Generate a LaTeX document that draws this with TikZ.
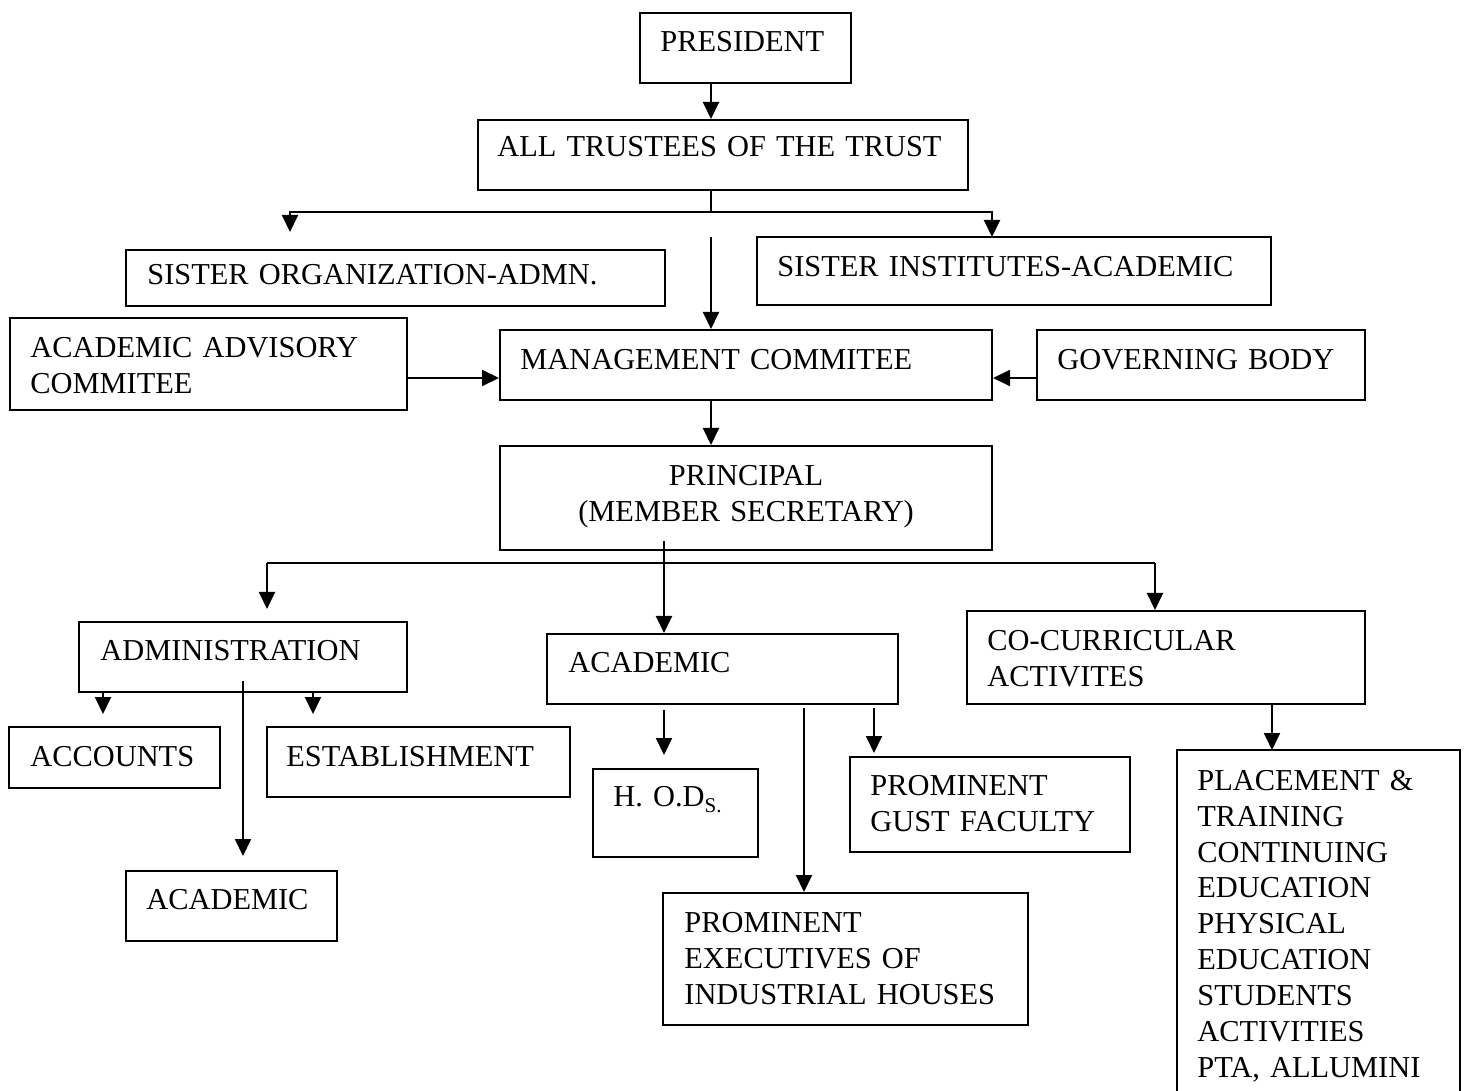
\documentclass[tikz,border=0pt]{standalone}
\usepackage{fontspec}
\setmainfont{Liberation Serif}
\usetikzlibrary{arrows.meta,fit}

\begin{document}
\begin{tikzpicture}[x=0.5pt,y=-0.5pt,
  box/.style={draw,line width=1pt,inner sep=0pt},
  txt/.style={anchor=base west,inner sep=0pt,align=left,text width=9cm,font=\fontsize{15.2}{18}\selectfont},
  arr/.style={line width=1pt,-{Triangle[length=8.5pt,width=8pt]}},
  ln/.style={line width=1pt}]
  \useasboundingbox (0,0) rectangle (1464,1091);
  \node[box,fit={(640,13)(851,83)}] (pres) {};
  \node[txt] (presT) at (660,52) {PRESIDENT};
  \node[box,fit={(478,120)(968,190)}] (trust) {};
  \node[txt] (trustT) at (497,157) {ALL TRUSTEES OF THE TRUST};
  \node[box,fit={(126,250)(665,306)}] (sorg) {};
  \node[txt] (sorgT) at (147,285) {SISTER ORGANIZATION-ADMN.};
  \node[box,fit={(757,237)(1271,305)}] (sinst) {};
  \node[txt] (sinstT) at (777,277) {SISTER INSTITUTES-ACADEMIC};
  \node[box,fit={(10,318)(407,410)}] (aac) {};
  \node[txt] (aacT) at (30,358) {ACADEMIC ADVISORY\\COMMITEE};
  \node[box,fit={(500,330)(992,400)}] (mgmt) {};
  \node[txt] (mgmtT) at (520,370) {MANAGEMENT COMMITEE};
  \node[box,fit={(1037,330)(1365,400)}] (gov) {};
  \node[txt] (govT) at (1057,370) {GOVERNING BODY};
  \node[box,fit={(500,446)(992,550)}] (princ) {};
  \node[txt,anchor=base,align=center] (princT) at (746,486) {PRINCIPAL\\(MEMBER SECRETARY)};
  \node[box,fit={(79,622)(407,692)}] (admin) {};
  \node[txt] (adminT) at (100,661) {ADMINISTRATION};
  \node[box,fit={(547,634)(898,704)}] (acad) {};
  \node[txt] (acadT) at (568,673) {ACADEMIC};
  \node[box,fit={(967,611)(1365,704)}] (cocur) {};
  \node[txt] (cocurT) at (987,650) {CO-CURRICULAR\\ACTIVITES};
  \node[box,fit={(9,727)(220,788)}] (acct) {};
  \node[txt] (acctT) at (30,766) {ACCOUNTS};
  \node[box,fit={(267,727)(570,797)}] (estab) {};
  \node[txt] (estabT) at (286,766) {ESTABLISHMENT};
  \node[box,fit={(126,871)(337,941)}] (acad2) {};
  \node[txt] (acad2T) at (146,909) {ACADEMIC};
  \node[box,fit={(593,769)(758,857)}] (hod) {};
  \node[txt] (hodT) at (613,806) {H. O.D\raisebox{-3pt}{\fontsize{10.5}{12}\selectfont S.}};
  \node[box,fit={(850,757)(1130,852)}] (gust) {};
  \node[txt] (gustT) at (870,795) {PROMINENT\\GUST FACULTY};
  \node[box,fit={(663,893)(1028,1025)}] (exec) {};
  \node[txt] (execT) at (684,932) {PROMINENT\\EXECUTIVES OF\\INDUSTRIAL HOUSES};
  \node[box,fit={(1177,750)(1460,1110)}] (place) {};
  \node[txt] (placeT) at (1197,790) {PLACEMENT \&\\TRAINING\\CONTINUING\\EDUCATION\\PHYSICAL\\EDUCATION\\STUDENTS\\ACTIVITIES\\PTA, ALLUMINI};
  \coordinate (trunk) at (711,0);
  \coordinate (split1) at (711,212);
  \coordinate (sorgIn) at (290,232);
  \coordinate (sinstIn) at (992,237);
  \coordinate (mgmtIn) at (711,237);
  \coordinate (sideY) at (0,378);
  \coordinate (princOut) at (664,541);
  \coordinate (split2L) at (267,563);
  \coordinate (split2R) at (1155,563);
  \coordinate (acctIn) at (103,714);
  \coordinate (estabIn) at (313,714);
  \coordinate (acad2Out) at (243,681);
  \coordinate (hodOut) at (664,710);
  \coordinate (execOut) at (804,708);
  \coordinate (gustOut) at (874,708);
  \coordinate (placeIn) at (1272,750);
  \draw[arr] (pres.south -| trunk) -- (trust.north -| trunk);
  \draw[ln] (trust.south -| trunk) -- (split1);
  \draw[arr] (split1) -| (sorgIn);
  \draw[arr] (split1) -| (sinstIn);
  \draw[arr] (mgmtIn) -- (mgmt.north -| trunk);
  \draw[arr] (aac.east |- sideY) -- (mgmt.west |- sideY);
  \draw[arr] (gov.west |- sideY) -- (mgmt.east |- sideY);
  \draw[arr] (mgmt.south -| trunk) -- (princ.north -| trunk);
  \draw[arr] (princOut) -- (acad.north -| princOut);
  \draw[ln] (split2L) -- (split2R);
  \draw[arr,shorten >=6pt] (split2L) -- (admin.north -| split2L);
  \draw[arr] (split2R) -- (cocur.north -| split2R);
  \draw[arr] (admin.south -| acctIn) -- (acctIn);
  \draw[arr] (admin.south -| estabIn) -- (estabIn);
  \draw[arr,shorten >=7pt] (acad2Out) -- (acad2.north -| acad2Out);
  \draw[arr,shorten >=6.5pt] (hodOut) -- (hod.north -| hodOut);
  \draw[arr] (execOut) -- (exec.north -| execOut);
  \draw[arr,shorten >=1.5pt] (gustOut) -- (gust.north -| gustOut);
  \draw[arr] (cocur.south -| placeIn) -- (placeIn);
\end{tikzpicture}
\end{document}
